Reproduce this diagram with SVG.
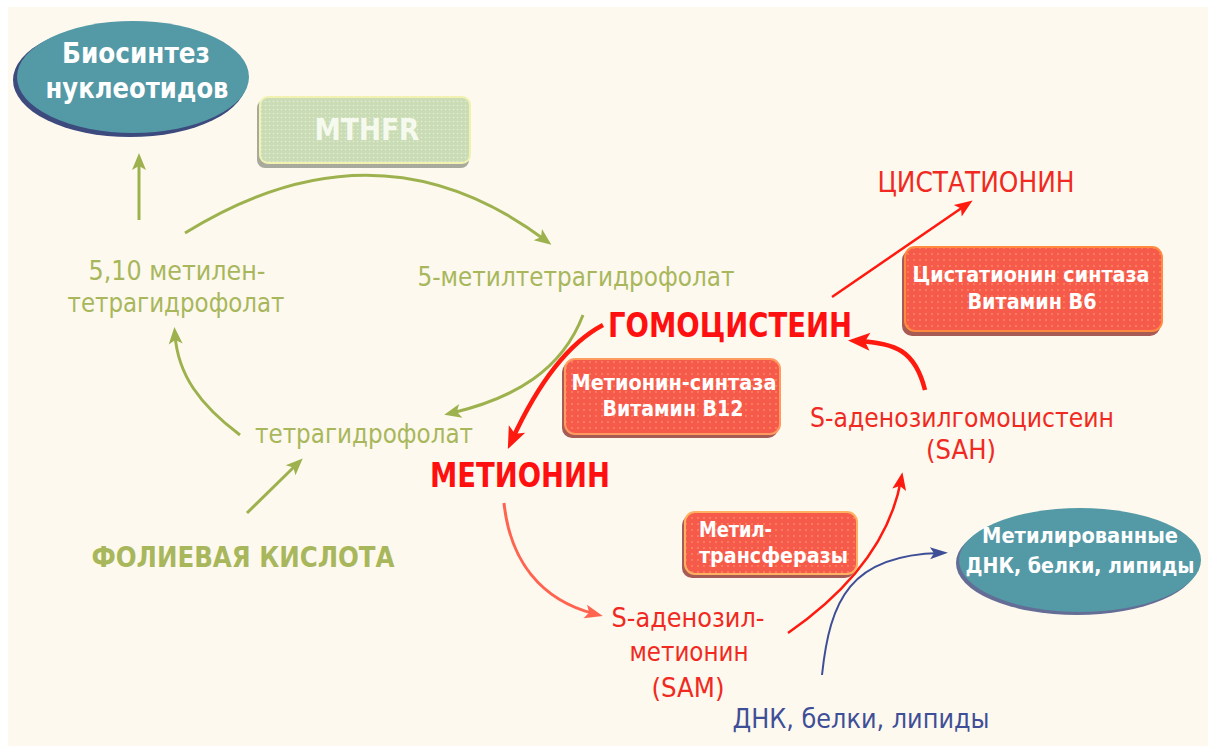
<svg xmlns="http://www.w3.org/2000/svg" width="1214" height="746" viewBox="0 0 1214 746">
<style>
text{font-family:"DejaVu Sans Condensed","DejaVu Sans",sans-serif;text-anchor:middle}
.g{fill:#a8b75c;font-size:27px}
.gb{fill:#a8b75c;font-size:28px;font-weight:bold}
.r{fill:#f02a22;font-size:27px}
.rb{fill:#ff1010;font-size:33px;font-weight:bold}
.w{fill:#fff;font-weight:bold;font-size:22px}
.bl{fill:#3e4f98;font-size:27px}
.cg{fill:none;stroke:#9db24e;stroke-width:3}
.cr{fill:none;stroke:#ff1a10;stroke-width:3}
.box{fill:#f65a4a}
.boxsh{fill:#a85a55}
</style>
<defs>
<pattern id="dots" width="6" height="6" patternUnits="userSpaceOnUse"><circle cx="2" cy="2" r="0.9" fill="#ffa070" opacity="0.7"/></pattern>
<pattern id="gdots" width="4" height="4" patternUnits="userSpaceOnUse"><rect width="4" height="4" fill="#c9dcb5"/><circle cx="1.5" cy="1.5" r="0.8" fill="#e6eed6"/></pattern>
<marker id="ag" markerUnits="userSpaceOnUse" orient="auto" overflow="visible" refX="0" refY="0" markerWidth="20" markerHeight="20"><path d="M8,0 L-9,-7 L-5,0 L-9,7 Z" fill="#9db24e"/></marker>
<marker id="ar" markerUnits="userSpaceOnUse" orient="auto" overflow="visible" refX="0" refY="0" markerWidth="20" markerHeight="20"><path d="M8,0 L-10,-7 L-6,0 L-10,7 Z" fill="#ff1a10"/></marker>
<marker id="arb" markerUnits="userSpaceOnUse" orient="auto" overflow="visible" refX="0" refY="0" markerWidth="30" markerHeight="30"><path d="M10,0 L-12,-9 L-7,0 L-12,9 Z" fill="#ff1a10"/></marker>
<marker id="as" markerUnits="userSpaceOnUse" orient="auto" overflow="visible" refX="0" refY="0" markerWidth="20" markerHeight="20"><path d="M8,0 L-10,-7 L-6,0 L-10,7 Z" fill="#ff6450"/></marker>
<marker id="ab" markerUnits="userSpaceOnUse" orient="auto" overflow="visible" refX="0" refY="0" markerWidth="20" markerHeight="20"><path d="M8,0 L-10,-6 L-6,0 L-10,6 Z" fill="#3e4f98"/></marker>
</defs>
<rect x="0" y="0" width="1214" height="746" fill="#ffffff"/>
<rect x="8" y="7" width="1200" height="739" fill="#fef9ee"/>

<g id="connectors">
<path class="cg" d="M139,220 L139,161" marker-end="url(#ag)"/>
<path class="cg" d="M185,233 Q377,114 545,240" marker-end="url(#ag)"/>
<path class="cg" d="M583,315 C562,370 515,398 452,413" marker-end="url(#ag)"/>
<path class="cg" d="M240,435 C200,405 178,375 175,335" marker-end="url(#ag)"/>
<path class="cg" d="M247,513 L297,464" marker-end="url(#ag)"/>
<path class="cr" style="stroke-width:4.5" d="M603,325 C565,345 535,390 512,440" marker-end="url(#arb)"/>
<path class="cr" style="stroke-width:2.5" d="M832,297 L966,205" marker-end="url(#ar)"/>
<path class="cr" style="stroke-width:4.5" d="M925,390 C915,350 895,343 858,341" marker-end="url(#arb)"/>
<path class="cr" style="stroke:#ff6450" d="M504,503 C510,560 540,600 595,614" marker-end="url(#as)"/>
<path class="cr" style="stroke-width:2.5" d="M788,633 C850,590 890,540 901,480" marker-end="url(#ar)"/>
<path fill="none" stroke="#3e4f98" stroke-width="2" d="M822,675 C830,600 850,555 940,553" marker-end="url(#ab)"/>
</g>

<g id="biosynthesis">
<ellipse cx="130" cy="80" rx="117" ry="57" fill="#3d4a7e"/>
<ellipse cx="133" cy="77" rx="116" ry="56" fill="#5399a6"/>
<text class="w" style="font-size:28px" x="136" y="63" textLength="148" lengthAdjust="spacingAndGlyphs">Биосинтез</text>
<text class="w" style="font-size:28px" x="137" y="98" textLength="183" lengthAdjust="spacingAndGlyphs">нуклеотидов</text>
</g>

<g id="mthfr">
<rect x="257" y="100" width="212" height="68" rx="8" fill="#a7aa9c"/>
<rect x="260" y="97" width="210" height="66" rx="8" fill="url(#gdots)" stroke="#f2f2b0" stroke-width="2"/>
<text class="w" style="font-size:30px;fill:#f6faee" x="367" y="140" textLength="105" lengthAdjust="spacingAndGlyphs">MTHFR</text>
</g>

<g id="methylene-thf">
<text class="g" x="177" y="280" textLength="177" lengthAdjust="spacingAndGlyphs">5,10 метилен-</text>
<text class="g" x="176" y="312" textLength="217" lengthAdjust="spacingAndGlyphs">тетрагидрофолат</text>
</g>

<g id="methyl-thf">
<text class="g" x="576" y="286" textLength="317" lengthAdjust="spacingAndGlyphs">5-метилтетрагидрофолат</text>
</g>

<g id="thf">
<text class="g" x="364" y="443" textLength="218" lengthAdjust="spacingAndGlyphs">тетрагидрофолат</text>
</g>

<g id="folic-acid">
<text class="gb" x="243" y="567" textLength="303" lengthAdjust="spacingAndGlyphs">ФОЛИЕВАЯ КИСЛОТА</text>
</g>

<g id="homocysteine">
<text class="rb" x="730" y="337" textLength="244" lengthAdjust="spacingAndGlyphs">ГОМОЦИСТЕИН</text>
</g>

<g id="methionine">
<text class="rb" x="520" y="487" textLength="180" lengthAdjust="spacingAndGlyphs">МЕТИОНИН</text>
</g>

<g id="cystathionine">
<text class="r" style="font-size:29px" x="976" y="192" textLength="197" lengthAdjust="spacingAndGlyphs">ЦИСТАТИОНИН</text>
</g>

<g id="cbs-box">
<rect x="902" y="250" width="258" height="86" rx="10" class="boxsh"/>
<rect x="905" y="247" width="257" height="84" rx="10" class="box"/>
<rect x="905" y="247" width="257" height="84" rx="10" fill="url(#dots)"/>
<rect x="905" y="247" width="257" height="84" rx="10" fill="none" stroke="#ff8a40" stroke-width="2"/>
<text class="w" x="1031" y="282" textLength="237" lengthAdjust="spacingAndGlyphs">Цистатионин синтаза</text>
<text class="w" x="1032" y="309" textLength="129" lengthAdjust="spacingAndGlyphs">Витамин B6</text>
</g>

<g id="ms-box">
<rect x="562" y="362" width="216" height="76" rx="10" class="boxsh"/>
<rect x="565" y="359" width="215" height="75" rx="10" class="box"/>
<rect x="565" y="359" width="215" height="75" rx="10" fill="url(#dots)"/>
<rect x="565" y="359" width="215" height="75" rx="10" fill="none" stroke="#ff9a60" stroke-width="2"/>
<text class="w" x="674" y="390" textLength="205" lengthAdjust="spacingAndGlyphs">Метионин-синтаза</text>
<text class="w" x="673" y="416" textLength="141" lengthAdjust="spacingAndGlyphs">Витамин B12</text>
</g>

<g id="sah">
<text class="r" x="962" y="427" textLength="304" lengthAdjust="spacingAndGlyphs">S-аденозилгомоцистеин</text>
<text class="r" x="961" y="459" textLength="70" lengthAdjust="spacingAndGlyphs">(SAH)</text>
</g>

<g id="mt-box">
<rect x="682" y="515" width="173" height="63" rx="10" class="boxsh"/>
<rect x="685" y="512" width="172" height="62" rx="10" class="box"/>
<rect x="685" y="512" width="172" height="62" rx="10" fill="url(#dots)"/>
<rect x="685" y="512" width="172" height="62" rx="10" fill="none" stroke="#ffb060" stroke-width="2"/>
<text class="w" style="text-anchor:start" x="699" y="537" textLength="73" lengthAdjust="spacingAndGlyphs">Метил-</text>
<text class="w" style="text-anchor:start" x="699" y="563" textLength="149" lengthAdjust="spacingAndGlyphs">трансферазы</text>
</g>

<g id="sam">
<text class="r" x="688" y="627" textLength="153" lengthAdjust="spacingAndGlyphs">S-аденозил-</text>
<text class="r" x="689" y="661" textLength="119" lengthAdjust="spacingAndGlyphs">метионин</text>
<text class="r" x="688" y="697" textLength="73" lengthAdjust="spacingAndGlyphs">(SAM)</text>
</g>

<g id="methylated">
<ellipse cx="1077" cy="563" rx="121" ry="52" fill="#3d4a7e" opacity="0.8"/>
<ellipse cx="1080" cy="560" rx="121" ry="52" fill="#5399a6"/>
<text class="w" x="1080" y="543" textLength="196" lengthAdjust="spacingAndGlyphs">Метилированные</text>
<text class="w" x="1080" y="573" textLength="229" lengthAdjust="spacingAndGlyphs">ДНК, белки, липиды</text>
</g>

<g id="dna">
<text class="bl" x="861" y="728" textLength="257" lengthAdjust="spacingAndGlyphs">ДНК, белки, липиды</text>
</g>
</svg>
